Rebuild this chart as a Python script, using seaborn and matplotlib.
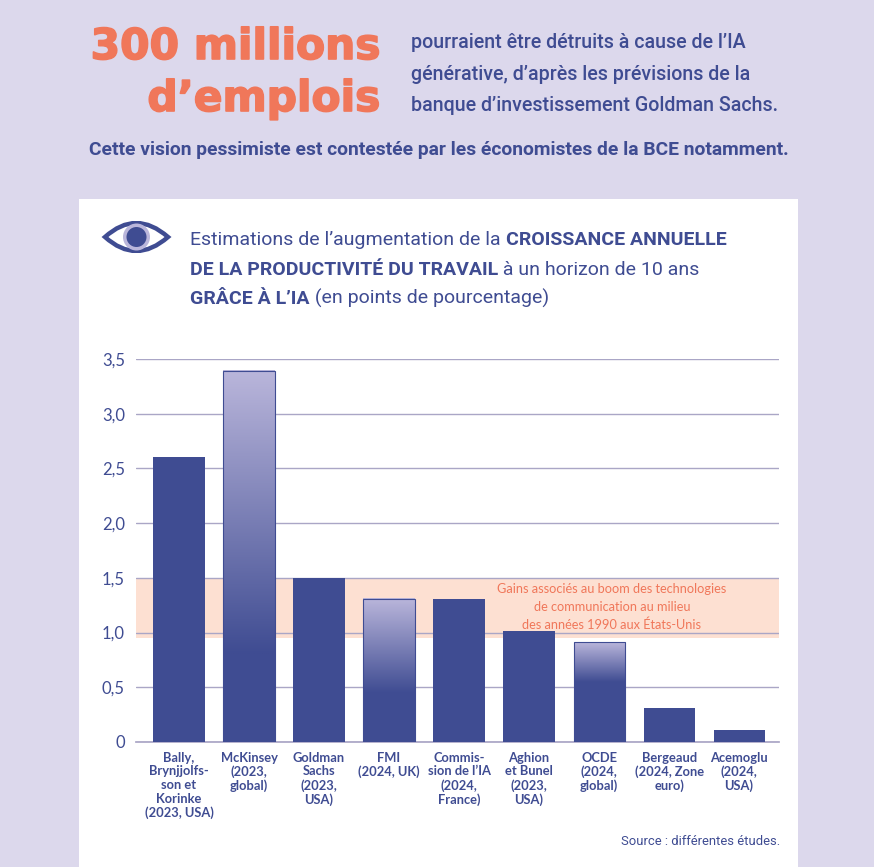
import numpy as np
import pandas as pd
import matplotlib
matplotlib.use("Agg")
import matplotlib.pyplot as plt
import matplotlib.patheffects as pe
import seaborn as sns
from matplotlib.colors import LinearSegmentedColormap
from matplotlib.patches import Circle, PathPatch, Rectangle
from matplotlib.path import Path
from matplotlib.transforms import Affine2D

# data
studies = [
    "Bally,\nBrynjjolfs-\nson et\nKorinke\n(2023, USA)",
    "McKinsey\n(2023,\nglobal)",
    "Goldman\nSachs\n(2023,\nUSA)",
    "FMI\n(2024, UK)",
    "Commis-\nsion de l’IA\n(2024,\nFrance)",
    "Aghion\net Bunel\n(2023,\nUSA)",
    "OCDE\n(2024,\nglobal)",
    "Bergeaud\n(2024, Zone\neuro)",
    "Acemoglu\n(2024,\nUSA)",
]
gains = [2.6, 3.39, 1.5, 1.31, 1.31, 1.01, 0.91, 0.31, 0.11]
# value under which the range bars turn solid (None = plain bar)
solid_below = [None, 0.8, None, 0.45, None, None, 0.55, None, None]
y_ticks = [0, 0.5, 1.0, 1.5, 2.0, 2.5, 3.0, 3.5]
y_labels = ["0", "0,5", "1,0", "1,5", "2,0", "2,5", "3,0", "3,5"]
boom_low, boom_high = 0.95, 1.5

BLUE = "#3f4c92"
LIGHT = "#bab6db"
BG = "#dcd8ec"
CORAL = "#f0775a"
BAND = "#fde0d2"
GRID = "#aaa6c6"
W, H = 874, 867

sns.set_theme(style="white")
COND = ["Roboto", "DejaVu Sans"]
GEO = ["Lato", "DejaVu Sans"]

fig = plt.figure(figsize=(W / 100, H / 100), dpi=100, facecolor=BG)
px = Affine2D().scale(1 / W, -1 / H).translate(0, 1) + fig.transFigure

fig.patches.append(Rectangle((79, 199), 719, 668, transform=px, color="white", lw=0, zorder=-5))

ax = fig.add_axes([136 / W, 1 - 742 / H, (779 - 136) / W, (742 - 359) / H])
df = pd.DataFrame({"study": studies, "gain": gains})
sns.barplot(data=df, x="study", y="gain", color=BLUE, saturation=1, width=0.73, linewidth=0, ax=ax, zorder=3)
ax.set_xlim(-0.614, 8.57)
ax.set_ylim(0, 3.5)
ax.set_facecolor("none")

ax.axhspan(boom_low, boom_high, color=BAND, lw=0, zorder=0)
ax.set_yticks(y_ticks, y_labels)
ax.yaxis.grid(True, color=GRID, lw=1)
ax.set_axisbelow(True)
for line in ax.yaxis.get_gridlines():
    line.set_zorder(1)
sns.despine(ax=ax, left=True, top=True, right=True)
ax.spines["bottom"].set_color(GRID)
ax.tick_params(axis="both", length=0)
ax.set_xlabel("")
ax.set_ylabel("")
for lab in ax.get_yticklabels():
    lab.set(color=BLUE, fontsize=12, family=GEO)
ax.tick_params(axis="y", pad=8)
ax.set_xticks(range(len(studies)), studies)
for lab in ax.get_xticklabels():
    lab.set(color=BLUE, fontsize=9.3, fontweight="bold", family=GEO, linespacing=1.16, va="top")
ax.tick_params(axis="x", pad=7)

# range bars: gradient from the top of the bar down to the solid part
cmap = LinearSegmentedColormap.from_list("range", [BLUE, LIGHT])
for bar, low in zip(ax.patches, solid_below):
    if low is None:
        continue
    x0, x1 = bar.get_x(), bar.get_x() + bar.get_width()
    top = bar.get_height()
    ax.imshow(np.linspace(1, 0, 256).reshape(-1, 1), cmap=cmap, aspect="auto",
              extent=(x0, x1, low, top), zorder=4, interpolation="bilinear")
    bar.set_edgecolor(BLUE)
    bar.set_linewidth(0.8)
    bar.set_zorder(5)
    bar.set_facecolor("none")
    ax.add_patch(Rectangle((x0, 0), x1 - x0, low, color=BLUE, lw=0, zorder=4))
ax.set_xlim(-0.614, 8.57)
ax.set_ylim(0, 3.5)

ax.text(0.74, 0.352, "Gains associés au boom des technologies\nde communication au milieu\ndes années 1990 aux États-Unis",
        transform=ax.transAxes, ha="center", va="center", color=CORAL, fontsize=9.2,
        family=GEO, linespacing=1.55, zorder=6)


def put(x, y, s, **kw):
    return fig.text(x / W, 1 - y / H, s, **kw)


def runs(x, y, parts, size):
    # one line with regular and bold pieces side by side
    r = fig.canvas.get_renderer()
    for s, weight in parts:
        t = put(x, y, s, color=BLUE, fontsize=size, family=COND, fontweight=weight, va="baseline")
        x += t.get_window_extent(r).width


heavy = [pe.withStroke(linewidth=1.2, foreground=CORAL)]
put(380, 59, "300 millions", color=CORAL, fontsize=30.5, fontweight="bold", family="DejaVu Sans",
    ha="right", va="baseline", path_effects=heavy)
put(380, 111, "d’emplois", color=CORAL, fontsize=30.5, fontweight="bold", family="DejaVu Sans",
    ha="right", va="baseline", path_effects=heavy)
for y, s in zip([48, 80, 111], ["pourraient être détruits à cause de l’IA",
                                "générative, d’après les prévisions de la",
                                "banque d’investissement Goldman Sachs."]):
    put(411, y, s, color=BLUE, fontsize=14.1, family=COND, fontweight="medium", va="baseline")
put(439, 155, "Cette vision pessimiste est contestée par les économistes de la BCE notamment.",
    color=BLUE, fontsize=13.85, family=COND, fontweight="bold", ha="center", va="baseline")

runs(190, 245, [("Estimations de l’augmentation de la ", "normal"), ("CROISSANCE ANNUELLE", "bold")], 14)
runs(190, 275, [("DE LA PRODUCTIVITÉ DU TRAVAIL", "bold"), (" à un horizon de 10 ans", "normal")], 14)
runs(190, 304, [("GRÂCE À L’IA", "bold"), (" (en points de pourcentage)", "normal")], 14)

put(780, 845, "Source : différentes études.", color=BLUE, fontsize=9.35, family=COND, ha="right", va="baseline")

# eye icon
eye = Path([(105, 237), (136, 209), (168, 237), (136, 265), (105, 237), (105, 237)],
           [Path.MOVETO, Path.CURVE3, Path.CURVE3, Path.CURVE3, Path.CURVE3, Path.CLOSEPOLY])
fig.patches.append(PathPatch(eye, transform=px, facecolor="white", edgecolor=BLUE, lw=3.2))
fig.patches.append(Circle((136.5, 237), 13.5, transform=px, color=LIGHT, lw=0))
fig.patches.append(Circle((136.5, 237), 10, transform=px, color=BLUE, lw=0))

fig.savefig("out.png", dpi=100, facecolor=BG)
